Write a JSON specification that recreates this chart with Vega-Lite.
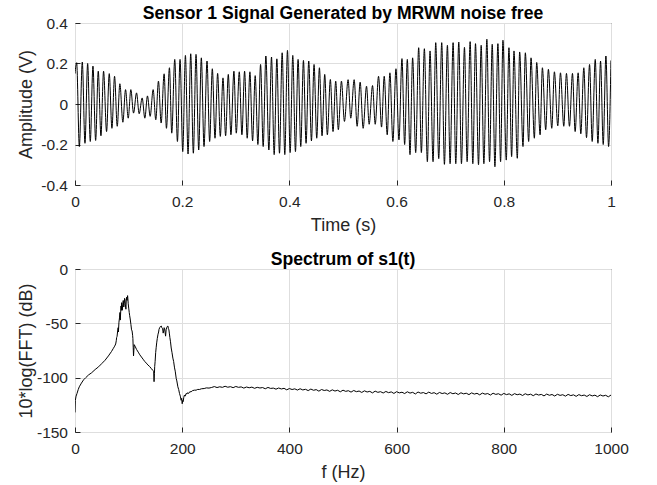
{
"$schema": "https://vega.github.io/schema/vega-lite/v6.json",
"background": "white",
"padding": {"left": 16, "top": 4, "right": 5, "bottom": 5},
"config": {
"font": "Liberation Sans",
"view": {"stroke": "#262626", "strokeWidth": 1},
"axis": {"labelFont": "Liberation Sans", "labelFontSize": 15.5, "labelColor": "#262626", "labelFlush": false, "titleFont": "Liberation Sans", "titleFontSize": 18, "titleFontWeight": "normal", "titleColor": "#262626", "gridColor": "#dedede", "gridWidth": 1, "domain": false, "ticks": true, "tickSize": -5, "tickColor": "#262626", "tickWidth": 1},
"axisX": {"labelPadding": 14, "titlePadding": 7},
"axisY": {"labelPadding": 12.5, "titleX": -49, "titleBaseline": "middle"},
"title": {"font": "Liberation Sans", "fontSize": 17.6, "fontWeight": "bold", "color": "#000000", "anchor": "middle", "offset": -7, "frame": "group", "baseline": "alphabetic"},
"concat": {"spacing": 15}
},
"datasets": {
"sig": [
{"t":0,"v":0.15},{"t":0.0031,"v":0.204},{"t":0.0081,"v":-0.21},{"t":0.0136,"v":0.207},{"t":0.0186,"v":-0.194},{"t":0.0236,"v":0.2},{"t":0.0285,"v":-0.185},{"t":0.0335,"v":0.187},{"t":0.0385,"v":-0.18},{"t":0.0434,"v":0.162},{"t":0.0484,"v":-0.157},{"t":0.0533,"v":0.162},{"t":0.0589,"v":-0.136},{"t":0.0639,"v":0.15},{"t":0.0689,"v":-0.12},{"t":0.0738,"v":0.137},{"t":0.0788,"v":-0.11},{"t":0.0837,"v":0.1},{"t":0.0893,"v":-0.09},{"t":0.0943,"v":0.071},{"t":0.0993,"v":-0.07},{"t":0.1042,"v":0.071},{"t":0.1092,"v":-0.045},{"t":0.1148,"v":0.055},{"t":0.1197,"v":-0.048},{"t":0.1253,"v":0.03},{"t":0.1303,"v":-0.07},{"t":0.1352,"v":0.04},{"t":0.1402,"v":-0.061},{"t":0.1458,"v":0.071},{"t":0.1507,"v":-0.078},{"t":0.1557,"v":0.113},{"t":0.1607,"v":-0.094},{"t":0.1663,"v":0.149},{"t":0.1706,"v":-0.12},{"t":0.1762,"v":0.179},{"t":0.1805,"v":-0.144},{"t":0.1861,"v":0.22},{"t":0.1911,"v":-0.185},{"t":0.196,"v":0.22},{"t":0.201,"v":-0.235},{"t":0.206,"v":0.24},{"t":0.2109,"v":-0.247},{"t":0.2159,"v":0.248},{"t":0.2208,"v":-0.243},{"t":0.2258,"v":0.245},{"t":0.2308,"v":-0.227},{"t":0.2357,"v":0.228},{"t":0.2407,"v":-0.21},{"t":0.2463,"v":0.212},{"t":0.2512,"v":-0.185},{"t":0.2562,"v":0.174},{"t":0.2612,"v":-0.169},{"t":0.2661,"v":0.151},{"t":0.2711,"v":-0.16},{"t":0.2761,"v":0.129},{"t":0.281,"v":-0.157},{"t":0.286,"v":0.146},{"t":0.2909,"v":-0.152},{"t":0.2965,"v":0.162},{"t":0.3009,"v":-0.144},{"t":0.3065,"v":0.159},{"t":0.3114,"v":-0.152},{"t":0.3164,"v":0.162},{"t":0.3213,"v":-0.169},{"t":0.3263,"v":0.159},{"t":0.3313,"v":-0.182},{"t":0.3362,"v":0.14},{"t":0.3412,"v":-0.2},{"t":0.3462,"v":0.195},{"t":0.3511,"v":-0.21},{"t":0.3561,"v":0.237},{"t":0.3617,"v":-0.227},{"t":0.3666,"v":0.232},{"t":0.3716,"v":-0.25},{"t":0.3766,"v":0.223},{"t":0.3815,"v":-0.243},{"t":0.3865,"v":0.253},{"t":0.3914,"v":-0.25},{"t":0.3964,"v":0.265},{"t":0.4014,"v":-0.24},{"t":0.4063,"v":0.24},{"t":0.4113,"v":-0.235},{"t":0.4162,"v":0.22},{"t":0.4212,"v":-0.21},{"t":0.4262,"v":0.215},{"t":0.4311,"v":-0.194},{"t":0.4361,"v":0.212},{"t":0.4411,"v":-0.182},{"t":0.446,"v":0.195},{"t":0.451,"v":-0.169},{"t":0.456,"v":0.179},{"t":0.4609,"v":-0.157},{"t":0.4659,"v":0.146},{"t":0.4708,"v":-0.152},{"t":0.4764,"v":0.121},{"t":0.4814,"v":-0.136},{"t":0.4864,"v":0.113},{"t":0.4913,"v":-0.127},{"t":0.4971,"v":0.113},{"t":0.5027,"v":-0.086},{"t":0.5095,"v":0.12},{"t":0.5145,"v":-0.07},{"t":0.5208,"v":0.12},{"t":0.5264,"v":-0.11},{"t":0.532,"v":0.108},{"t":0.5376,"v":-0.12},{"t":0.5439,"v":0.088},{"t":0.5488,"v":-0.1},{"t":0.5551,"v":0.091},{"t":0.5601,"v":-0.1},{"t":0.5663,"v":0.137},{"t":0.5719,"v":-0.114},{"t":0.5769,"v":0.137},{"t":0.5825,"v":-0.152},{"t":0.5875,"v":0.154},{"t":0.5931,"v":-0.185},{"t":0.5988,"v":0.174},{"t":0.6044,"v":-0.177},{"t":0.61,"v":0.224},{"t":0.615,"v":-0.2},{"t":0.62,"v":0.22},{"t":0.625,"v":-0.25},{"t":0.6299,"v":0.228},{"t":0.6356,"v":-0.24},{"t":0.6412,"v":0.278},{"t":0.6462,"v":-0.24},{"t":0.6518,"v":0.273},{"t":0.6574,"v":-0.285},{"t":0.6624,"v":0.262},{"t":0.668,"v":-0.285},{"t":0.673,"v":0.303},{"t":0.6786,"v":-0.27},{"t":0.6842,"v":0.303},{"t":0.6892,"v":-0.298},{"t":0.6948,"v":0.29},{"t":0.6998,"v":-0.295},{"t":0.7054,"v":0.303},{"t":0.7104,"v":-0.295},{"t":0.716,"v":0.306},{"t":0.721,"v":-0.295},{"t":0.7266,"v":0.28},{"t":0.7316,"v":-0.285},{"t":0.7372,"v":0.308},{"t":0.7422,"v":-0.295},{"t":0.7472,"v":0.298},{"t":0.7528,"v":-0.3},{"t":0.7578,"v":0.29},{"t":0.7628,"v":-0.295},{"t":0.7684,"v":0.32},{"t":0.7734,"v":-0.285},{"t":0.7784,"v":0.295},{"t":0.7834,"v":-0.31},{"t":0.789,"v":0.298},{"t":0.794,"v":-0.285},{"t":0.7984,"v":0.315},{"t":0.8046,"v":-0.277},{"t":0.8096,"v":0.278},{"t":0.8146,"v":-0.26},{"t":0.819,"v":0.262},{"t":0.8252,"v":-0.268},{"t":0.8296,"v":0.257},{"t":0.8358,"v":-0.21},{"t":0.8402,"v":0.253},{"t":0.8464,"v":-0.185},{"t":0.8508,"v":0.228},{"t":0.857,"v":-0.169},{"t":0.8614,"v":0.205},{"t":0.8677,"v":-0.152},{"t":0.872,"v":0.179},{"t":0.8782,"v":-0.127},{"t":0.8832,"v":0.171},{"t":0.8895,"v":-0.12},{"t":0.8944,"v":0.159},{"t":0.9007,"v":-0.108},{"t":0.9057,"v":0.154},{"t":0.9119,"v":-0.11},{"t":0.9169,"v":0.151},{"t":0.9225,"v":-0.11},{"t":0.9281,"v":0.151},{"t":0.9331,"v":-0.136},{"t":0.9387,"v":0.154},{"t":0.9437,"v":-0.147},{"t":0.9493,"v":0.179},{"t":0.9543,"v":-0.166},{"t":0.96,"v":0.195},{"t":0.9649,"v":-0.185},{"t":0.9706,"v":0.22},{"t":0.9756,"v":-0.194},{"t":0.9805,"v":0.212},{"t":0.9855,"v":-0.2},{"t":0.9905,"v":0.237},{"t":0.9955,"v":-0.21},{"t":0.9999,"v":0.215}
],
"spec": [
{"f":0,"db":-132},{"f":0.6,"db":-121},{"f":2,"db":-117},{"f":3.7,"db":-114.6},{"f":6,"db":-111},{"f":8,"db":-108.4},{"f":12,"db":-105},{"f":16,"db":-102},{"f":20,"db":-100},{"f":25.3,"db":-97.5},{"f":31,"db":-95.5},{"f":37.6,"db":-92.5},{"f":44,"db":-90},{"f":50,"db":-87},{"f":56,"db":-84},{"f":62.3,"db":-80},{"f":68,"db":-76},{"f":71.6,"db":-73},{"f":74,"db":-71},{"f":75.9,"db":-69},{"f":77,"db":-66},{"f":77.7,"db":-63},{"f":78.5,"db":-62},{"f":79.6,"db":-57},{"f":80.5,"db":-54},{"f":81,"db":-58},{"f":82,"db":-49},{"f":83,"db":-45},{"f":83.9,"db":-40},{"f":84.5,"db":-47},{"f":85.8,"db":-34},{"f":86.5,"db":-38},{"f":87,"db":-31},{"f":88.2,"db":-38},{"f":89,"db":-33},{"f":90,"db":-29},{"f":91,"db":-35},{"f":91.9,"db":-32},{"f":92.5,"db":-27},{"f":93.2,"db":-28},{"f":94,"db":-33},{"f":95,"db":-37},{"f":95.6,"db":-29},{"f":96.3,"db":-26},{"f":97,"db":-29},{"f":98.1,"db":-24.5},{"f":98.6,"db":-27},{"f":99.3,"db":-32},{"f":100.2,"db":-36},{"f":101.2,"db":-40},{"f":102,"db":-43},{"f":103,"db":-46},{"f":104.3,"db":-51},{"f":105.5,"db":-56},{"f":106.5,"db":-57},{"f":107.5,"db":-61},{"f":108,"db":-64},{"f":108.6,"db":-72},{"f":109.2,"db":-80},{"f":109.8,"db":-75},{"f":110.4,"db":-69.6},{"f":112,"db":-71},{"f":114.8,"db":-74},{"f":118,"db":-76.5},{"f":121,"db":-79},{"f":124,"db":-81},{"f":127,"db":-83},{"f":130,"db":-85},{"f":133,"db":-86.6},{"f":136,"db":-88.3},{"f":139.4,"db":-89.8},{"f":142,"db":-91.4},{"f":144.4,"db":-92.9},{"f":146,"db":-93.5},{"f":146.8,"db":-94},{"f":147.5,"db":-103.7},{"f":148.2,"db":-96},{"f":148.7,"db":-89.8},{"f":149.5,"db":-85},{"f":150.5,"db":-77},{"f":151.5,"db":-72},{"f":152.4,"db":-68},{"f":153.5,"db":-64},{"f":154.9,"db":-60},{"f":156,"db":-58},{"f":156.7,"db":-55.6},{"f":158,"db":-54},{"f":159.2,"db":-53},{"f":161,"db":-52.5},{"f":162,"db":-54},{"f":163.5,"db":-55},{"f":164.5,"db":-59},{"f":165.4,"db":-57},{"f":166.3,"db":-54},{"f":167.2,"db":-55},{"f":168,"db":-58},{"f":169,"db":-61.8},{"f":170,"db":-56},{"f":171,"db":-54},{"f":172,"db":-53},{"f":173.4,"db":-52.5},{"f":174.3,"db":-55},{"f":175.2,"db":-56},{"f":176,"db":-59},{"f":177,"db":-63},{"f":178.2,"db":-67},{"f":179.5,"db":-72.7},{"f":181,"db":-77},{"f":182.6,"db":-82},{"f":184,"db":-85},{"f":185.7,"db":-91},{"f":187,"db":-94},{"f":188.8,"db":-100.6},{"f":190,"db":-103},{"f":191.9,"db":-108.4},{"f":193.5,"db":-111},{"f":195,"db":-114.6},{"f":196.5,"db":-117},{"f":198,"db":-120.8},{"f":199,"db":-119},{"f":200,"db":-124},{"f":201,"db":-121},{"f":201.8,"db":-122},{"f":203,"db":-118},{"f":204.2,"db":-116},{"f":205.5,"db":-117},{"f":207.3,"db":-114.6},{"f":209,"db":-115},{"f":210,"db":-113.9},{"f":212,"db":-114.5},{"f":214,"db":-113},{"f":216.6,"db":-113},{"f":219,"db":-112},{"f":222.7,"db":-111.5},{"f":226,"db":-111.5},{"f":229,"db":-110.8},{"f":232,"db":-110.9},{"f":236,"db":-110.2},{"f":241,"db":-110},{"f":245,"db":-109.4},{"f":250,"db":-109.6},
{"f":255,"db":-109.0},{"f":260,"db":-108.2},{"f":265,"db":-109.1},{"f":270,"db":-108.4},{"f":275,"db":-108.9},{"f":280,"db":-107.9},{"f":285,"db":-108.8},{"f":290,"db":-108.3},{"f":295,"db":-109.2},{"f":300,"db":-108.1},{"f":305,"db":-108.9},{"f":310,"db":-108.5},{"f":315,"db":-109.6},{"f":320,"db":-108.6},{"f":325,"db":-109.3},{"f":330,"db":-108.7},{"f":335,"db":-109.8},{"f":340,"db":-108.9},{"f":345,"db":-109.5},{"f":350,"db":-109.1},{"f":355,"db":-110.2},{"f":360,"db":-109.0},{"f":365,"db":-109.9},{"f":370,"db":-109.6},{"f":375,"db":-110.6},{"f":380,"db":-109.5},{"f":385,"db":-110.4},{"f":390,"db":-109.8},{"f":395,"db":-111.2},{"f":400,"db":-110.0},{"f":405,"db":-110.9},{"f":410,"db":-110.3},{"f":415,"db":-111.4},{"f":420,"db":-110.2},{"f":425,"db":-111.3},{"f":430,"db":-110.7},{"f":435,"db":-111.9},{"f":440,"db":-110.5},{"f":445,"db":-111.6},{"f":450,"db":-111.0},{"f":455,"db":-112.4},{"f":460,"db":-110.9},{"f":465,"db":-111.8},{"f":470,"db":-111.3},{"f":475,"db":-112.6},{"f":480,"db":-111.2},{"f":485,"db":-112.3},{"f":490,"db":-111.6},{"f":495,"db":-113.0},{"f":500,"db":-111.5},{"f":505,"db":-112.6},{"f":510,"db":-112.0},{"f":515,"db":-113.3},{"f":520,"db":-111.8},{"f":525,"db":-112.9},{"f":530,"db":-112.3},{"f":535,"db":-113.6},{"f":540,"db":-112.1},{"f":545,"db":-113.2},{"f":550,"db":-112.6},{"f":555,"db":-114.0},{"f":560,"db":-112.4},{"f":565,"db":-113.5},{"f":570,"db":-112.9},{"f":575,"db":-114.1},{"f":580,"db":-112.7},{"f":585,"db":-113.8},{"f":590,"db":-113.1},{"f":595,"db":-114.5},{"f":600,"db":-112.9},{"f":605,"db":-114.0},{"f":610,"db":-113.4},{"f":615,"db":-114.6},{"f":620,"db":-113.0},{"f":625,"db":-114.2},{"f":630,"db":-113.5},{"f":635,"db":-115.0},{"f":640,"db":-113.2},{"f":645,"db":-114.3},{"f":650,"db":-113.7},{"f":655,"db":-114.9},{"f":660,"db":-113.3},{"f":665,"db":-114.5},{"f":670,"db":-113.8},{"f":675,"db":-115.2},{"f":680,"db":-113.6},{"f":685,"db":-114.6},{"f":690,"db":-114.0},{"f":695,"db":-115.3},{"f":700,"db":-113.7},{"f":705,"db":-114.8},{"f":710,"db":-114.1},{"f":715,"db":-115.5},{"f":720,"db":-113.9},{"f":725,"db":-114.9},{"f":730,"db":-114.3},{"f":735,"db":-115.6},{"f":740,"db":-114.0},{"f":745,"db":-115.1},{"f":750,"db":-114.4},{"f":755,"db":-115.8},{"f":760,"db":-114.2},{"f":765,"db":-115.2},{"f":770,"db":-114.6},{"f":775,"db":-116.0},{"f":780,"db":-114.3},{"f":785,"db":-115.4},{"f":790,"db":-114.8},{"f":795,"db":-116.1},{"f":800,"db":-114.5},{"f":805,"db":-115.6},{"f":810,"db":-114.9},{"f":815,"db":-116.3},{"f":820,"db":-114.7},{"f":825,"db":-115.7},{"f":830,"db":-115.1},{"f":835,"db":-116.4},{"f":840,"db":-114.8},{"f":845,"db":-115.9},{"f":850,"db":-115.2},{"f":855,"db":-116.6},{"f":860,"db":-115.0},{"f":865,"db":-116.0},{"f":870,"db":-115.4},{"f":875,"db":-116.8},{"f":880,"db":-115.1},{"f":885,"db":-116.2},{"f":890,"db":-115.5},{"f":895,"db":-116.9},{"f":900,"db":-115.3},{"f":905,"db":-116.3},{"f":910,"db":-115.7},{"f":915,"db":-117.0},{"f":920,"db":-115.4},{"f":925,"db":-116.5},{"f":930,"db":-115.8},{"f":935,"db":-117.2},{"f":940,"db":-115.6},{"f":945,"db":-116.6},{"f":950,"db":-116.0},{"f":955,"db":-117.3},{"f":960,"db":-115.7},{"f":965,"db":-116.8},{"f":970,"db":-116.1},{"f":975,"db":-117.5},{"f":980,"db":-115.9},{"f":985,"db":-116.9},{"f":990,"db":-116.2},{"f":995,"db":-117.6},{"f":1000,"db":-116.0}
]
},
"vconcat": [
{
"title": {"text": "Sensor 1 Signal Generated by MRWM noise free"},
"width": 536, "height": 162,
"data": {"name": "sig"},
"mark": {"type": "line", "color": "#000000", "strokeWidth": 1, "interpolate": "monotone", "clip": true},
"encoding": {
"x": {"field": "t", "type": "quantitative", "scale": {"domain": [0, 1], "nice": false, "zero": false}, "axis": {"title": "Time (s)", "values": [0, 0.2, 0.4, 0.6, 0.8, 1], "labelExpr": "'' + datum.value"}},
"y": {"field": "v", "type": "quantitative", "scale": {"domain": [-0.4, 0.4], "nice": false}, "axis": {"title": "Amplitude (V)", "values": [-0.4, -0.2, 0, 0.2, 0.4], "labelExpr": "'' + datum.value"}}
}
},
{
"title": {"text": "Spectrum of s1(t)"},
"width": 536, "height": 163,
"data": {"name": "spec"},
"mark": {"type": "line", "color": "#000000", "strokeWidth": 1, "clip": true},
"encoding": {
"x": {"field": "f", "type": "quantitative", "scale": {"domain": [0, 1000], "nice": false}, "axis": {"title": "f (Hz)", "values": [0, 200, 400, 600, 800, 1000], "labelExpr": "'' + datum.value"}},
"y": {"field": "db", "type": "quantitative", "scale": {"domain": [-150, 0], "nice": false}, "axis": {"title": "10*log(FFT) (dB)", "values": [-150, -100, -50, 0], "labelExpr": "'' + datum.value"}}
}
}
]
}
